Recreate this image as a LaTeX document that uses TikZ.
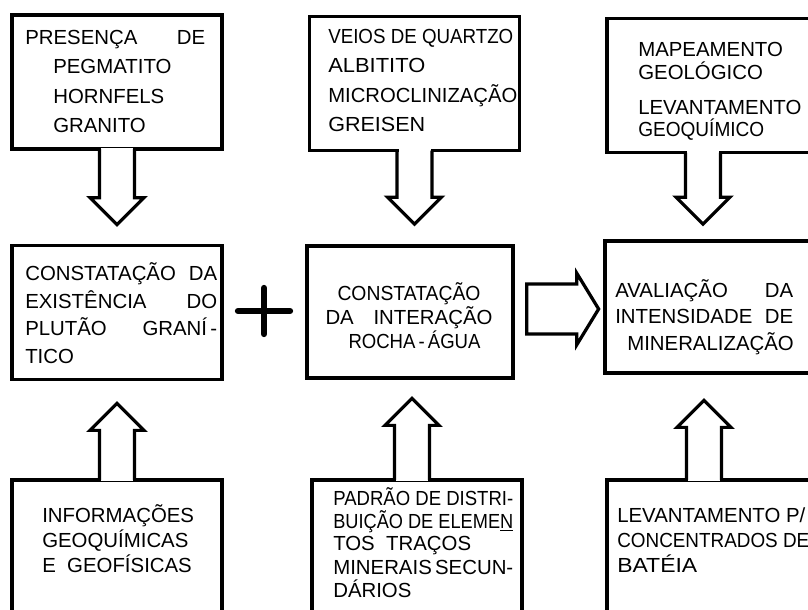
\documentclass[tikz,border=0pt]{standalone}
\usepackage{graphicx}
\usepackage{fontspec}
\setmainfont{Liberation Sans}
\usetikzlibrary{calc}
\newlength\pxu
\setlength\pxu{0.025cm}
\newcommand\fitto[2]{\resizebox{#1\pxu}{\height}{#2}}
\newcommand\spreadto[2]{\makebox[#1\pxu][l]{#2}}

\begin{document}
\begin{tikzpicture}[x = 0.025cm, y = -0.025cm,
  box/.style = {draw, line width = 2.3pt, minimum width = 5.25cm, minimum height = 3.35cm, inner sep = 0pt},
  lbl/.style = {font = \fontsize{14.5}{#1}\selectfont, align = left, anchor = base west, inner sep = 0pt},
  lbl/.default = 20pt,
  arrowline/.style = {line width = 2.3pt},
  pics/blockarrow/.style = {code = {
    \fill [white] (-16, -3) rectangle (16, 3);
    \draw [arrowline] (-17.5, -1.5) -- (-17.5, #1-27) -- (-27, #1-27) -- (0, #1) -- (27, #1-27) -- (17.5, #1-27) -- (17.5, -1.5);
  }}]
\useasboundingbox (0, 0) rectangle (808, 610);
\clip (0, 0) rectangle (808, 610);
% boxes
\node [box] (top1) at (117, 82) {};
\node [box] (top2) at (414.5, 83.5) {};
\node [box] (top3) at (712, 85.5) {};
\node [box] (mid1) at (117, 312.5) {};
\node [box, minimum width = 5.15cm, minimum height = 3.3cm] (mid2) at (410, 312) {};
\node [box, minimum height = 3.3cm] (mid3) at (710, 307) {};
\node [box] (bot1) at (117, 547) {};
\node [box] (bot2) at (417, 547) {};
\node [box] (bot3) at (712, 547) {};
% texts (placed at the baseline of their last line)
\node [lbl = 21pt] (top1txt) at (25, 133) {\spreadto{180}{PRESENÇA\hfill DE}\\
  \hspace*{28\pxu}PEGMATITO\\ \hspace*{28\pxu}HORNFELS\\ \hspace*{28\pxu}GRANITO};
\node [lbl = 21pt] (top2txt) at (328, 132) {\fitto{185}{VEIOS DE QUARTZO}\\ \fitto{97}{ALBITITO}\\
  \fitto{189}{MICROCLINIZAÇÃO}\\ \fitto{97}{GREISEN}};
\node [lbl = 16pt] (top3txt) at (638, 137) {MAPEAMENTO\\ GEOLÓGICO\\[9pt] LEVANTAMENTO\\ \fitto{126}{GEOQUÍMICO}};
\node [lbl = 19.5pt] (mid1txt) at (25, 363) {\spreadto{192}{CONSTATAÇÃO\hfill DA}\\ \spreadto{192}{EXISTÊNCIA\hfill DO}\\
  \spreadto{192}{PLUTÃO\hfill GRANÍ\,-}\\ TICO};
\node [lbl = 17pt, align = center, anchor = base] (mid2txt) at (409, 348) {\fitto{143}{CONSTATAÇÃO}\\
  \spreadto{167}{DA\hfill INTERAÇÃO}\\ \hspace*{11\pxu}\fitto{132}{ROCHA\,-\,ÁGUA}};
\node [lbl = 18.5pt] (mid3txt) at (615, 350) {\spreadto{178}{AVALIAÇÃO\hfill DA}\\ \spreadto{178}{INTENSIDADE\hfill DE}\\
  \hspace*{12\pxu}MINERALIZAÇÃO};
\node [lbl = 17.5pt] (bot1txt) at (42, 572) {INFORMAÇÕES\\ GEOQUÍMICAS\\ E\ \ GEOFÍSICAS};
\node [lbl = 16pt] (bot2txt) at (333, 597) {\fitto{180}{PADRÃO DE DISTRI-}\\ \fitto{180}{BUIÇÃO DE ELEME\underline{N}}\\
  TOS\ \ TRAÇOS\\[1pt] \spreadto{180}{MINERAIS\hfill SECUN-}\\ DÁRIOS};
\node [lbl = 17.5pt] (bot3txt) at (617, 572) {LEVANTAMENTO P/\\ \fitto{192}{CONCENTRADOS DE}\\ \fitto{80}{BATÉIA}};
% plus sign
\coordinate (plus) at (264, 311);
\draw [line width = 4.5pt, line cap = round] ($(plus) + (-26, 0)$) -- ($(plus) + (26, 0)$);
\draw [line width = 4.5pt, line cap = round] ($(plus) + (0, -23)$) -- ($(plus) + (0, 23)$);
% block arrows
\pic at (top1.south) {blockarrow = 74};
\pic at (top2.south) {blockarrow = 72};
\pic at ($(top3.south) + (-9, 0)$) {blockarrow = 70};
\pic [yscale = -1] at (bot1.north) {blockarrow = 75};
\pic [yscale = -1] at ($(bot2.north) + (-5, 0)$) {blockarrow = 80};
\pic [yscale = -1] at ($(bot3.north) + (-8, 0)$) {blockarrow = 78};
\coordinate (flowtail) at ($(mid2.east) + (12, -3)$);
\draw [arrowline] ($(flowtail) + (0, -25)$) -- ++(50, 0) -- ++(0, -11) -- ++(22, 36) -- ++(-22, 36) -- ++(0, -11) -- ++(-50, 0) -- cycle;
\end{tikzpicture}
\end{document}
